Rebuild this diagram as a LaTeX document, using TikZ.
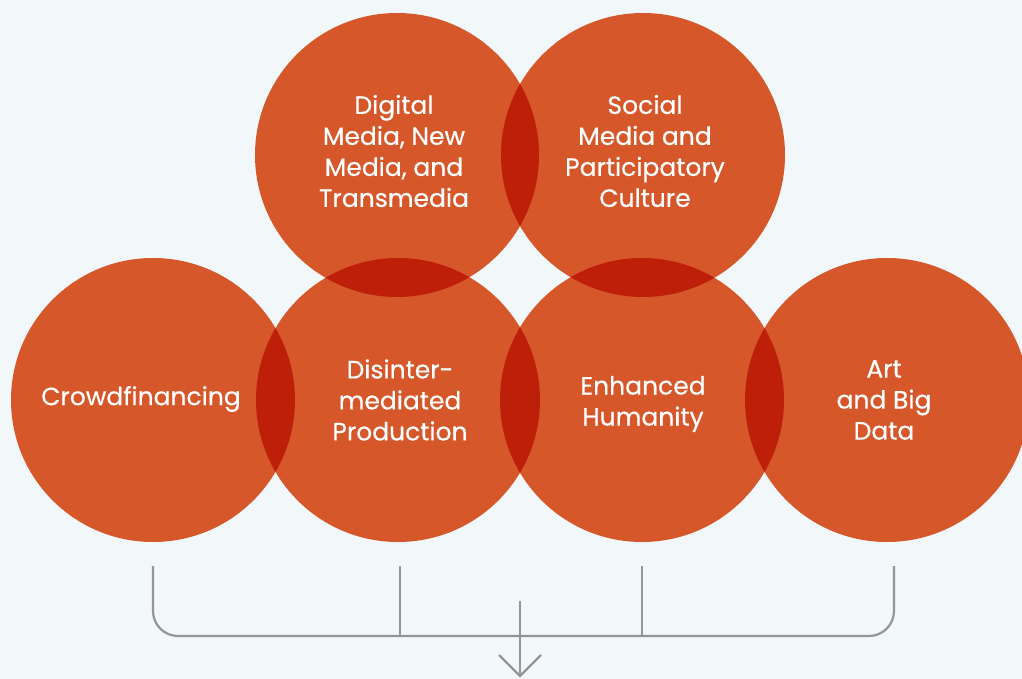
\documentclass[tikz,border=0pt]{standalone}
\usepackage{fontspec}
\setmainfont{Poppins}[FakeBold=0.4]
\definecolor{bg}{HTML}{F2F7FA}
\definecolor{org}{HTML}{D6572A}
\definecolor{lens}{HTML}{BD1F08}
\definecolor{gr}{HTML}{939598}
\begin{document}
\begin{tikzpicture}[x=1pt,y=-1pt,
  lbl/.style={text=white,font=\fontsize{25}{31}\selectfont,align=center,inner sep=0pt},
  conn/.style={draw=gr,line width=2.2pt},
  disc/.style={fill=org},
  lensfill/.style={fill=lens}]
\fill[bg] (0,0) rectangle (1022,679);
\useasboundingbox (0,0) rectangle (1022,679);
\coordinate (dig) at (397,155);
\coordinate (soc) at (643,155);
\coordinate (cro) at (153,400);
\coordinate (dis) at (398,400);
\coordinate (enh) at (642,400);
\coordinate (art) at (887,400);
\foreach \n in {dig,soc,cro,dis,enh,art} \fill[disc] (\n) circle[radius=142pt];
\foreach \a/\b in {dig/soc,dig/dis,soc/enh,cro/dis,dis/enh,enh/art}{
  \begin{scope}
    \clip (\a) circle[radius=142pt];
    \fill[lensfill] (\b) circle[radius=142pt];
  \end{scope}}
\node[lbl] (tdig) at (394,151) {Digital\\Media, New\\Media, and\\Transmedia};
\node[lbl] (tsoc) at (645,151) {Social\\Media and\\Participatory\\Culture};
\node[lbl] (tcro) at (141,399) {Crowdfinancing};
\node[lbl] (tdis) at (400,400) {Disinter-\\mediated\\Production};
\node[lbl] (tenh) at (643,404) {Enhanced\\Humanity};
\node[lbl] (tart) at (884,400) {Art\\and Big\\Data};
\coordinate (b1) at (153,566);
\coordinate (b2) at (400,566);
\coordinate (b3) at (642,566);
\coordinate (b4) at (894,566);
\coordinate (hl) at (153,636);
\coordinate (hr) at (894,636);
\draw[conn,rounded corners=25pt] (b1) -- (hl) -- (hr) -- (b4);
\draw[conn] (b2) -- (b2 |- hl);
\draw[conn] (b3) -- (b3 |- hl);
\coordinate (a0) at (520,601);
\coordinate (a1) at (520,676);
\coordinate (al) at (499,655);
\coordinate (ar) at (541,655);
\draw[conn] (a0) -- (a1);
\draw[conn] (al) -- (a1) -- (ar);
\end{tikzpicture}
\end{document}
